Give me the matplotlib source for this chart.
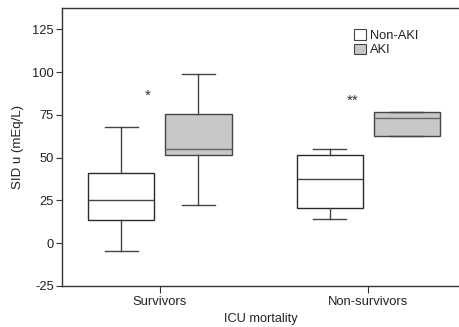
import matplotlib
matplotlib.use("Agg")
import matplotlib.pyplot as plt
from matplotlib.patches import Patch

plt.rcParams['font.family'] = ['Liberation Sans', 'DejaVu Sans']
plt.rcParams['axes.unicode_minus'] = False

# values (mEq/L)
groups = ['Survivors', 'Non-survivors']
series = ['Non-AKI', 'AKI']
whislo = {'Non-AKI': [-4.5, 14.3], 'AKI': [22.1, 62.6]}
q1 = {'Non-AKI': [13.6, 20.5], 'AKI': [51.6, 62.6]}
med = {'Non-AKI': [25.4, 37.8], 'AKI': [55.1, 73.1]}
q3 = {'Non-AKI': [41.1, 51.8], 'AKI': [75.7, 76.8]}
whishi = {'Non-AKI': [67.9, 55.1], 'AKI': [98.9, 76.8]}
stars = ['*', '**']
star_y = [86, 83]

fills = {'Non-AKI': 'white', 'AKI': '#c8c8c8'}
edges = {'Non-AKI': '#2a2a2a', 'AKI': '#444444'}
medc = {'Non-AKI': '#444444', 'AKI': '#666666'}
offsets = {'Non-AKI': -0.185, 'AKI': 0.185}
width = 0.317

fig = plt.figure(figsize=(4.6, 3.27), dpi=100)
ax = fig.add_axes([0.1348, 0.1254, 0.8652, 0.8501])

for s in series:
    stats = []
    for i in range(len(groups)):
        stats.append({'whislo': whislo[s][i], 'q1': q1[s][i], 'med': med[s][i],
                      'q3': q3[s][i], 'whishi': whishi[s][i], 'fliers': []})
    pos = [i + offsets[s] for i in range(len(groups))]
    ax.bxp(stats, positions=pos, widths=width, capwidths=width * 0.5,
           patch_artist=True, showfliers=False, manage_ticks=False,
           boxprops=dict(facecolor=fills[s], edgecolor=edges[s], linewidth=1.0),
           medianprops=dict(color=medc[s], linewidth=1.0),
           whiskerprops=dict(color='#444444', linewidth=1.0),
           capprops=dict(color='#444444', linewidth=1.0))

for i, st in enumerate(stars):
    ax.text(i - 0.06 if i == 0 else i - 0.073, star_y[i], st, ha='center', va='center',
            fontsize=11, color='#333333')

ax.set_xlim(-0.47, 1.44)
ax.set_ylim(-25, 137.5)
ax.set_yticks([-25, 0, 25, 50, 75, 100, 125])
ax.set_xticks(range(len(groups)))
ax.set_xticklabels(groups, fontsize=9.4, color='#222222')
ax.tick_params(axis='y', labelsize=9.3, labelcolor='#222222', length=4, color='#333333', pad=2)
ax.tick_params(axis='x', length=5, color='#333333', pad=2)
ax.set_ylabel('SID u (mEq/L)', fontsize=9.5, color='#222222', labelpad=6)
ax.set_xlabel('ICU mortality', fontsize=9.2, color='#222222', labelpad=4)
for sp in ['left', 'top', 'bottom']:
    ax.spines[sp].set_color('#333333')
    ax.spines[sp].set_linewidth(1.0)
ax.spines['right'].set_visible(False)

handles = [Patch(facecolor=fills[s], edgecolor='#444444', linewidth=0.8, label=s) for s in series]
ax.legend(handles=handles, loc='upper left', bbox_to_anchor=(0.734, 0.925), frameon=False,
          fontsize=9.3, handlelength=0.9, handleheight=0.9, handletextpad=0.3,
          labelspacing=0.15, borderaxespad=0, borderpad=0, labelcolor='#222222')

fig.savefig('out.png', dpi=100)
